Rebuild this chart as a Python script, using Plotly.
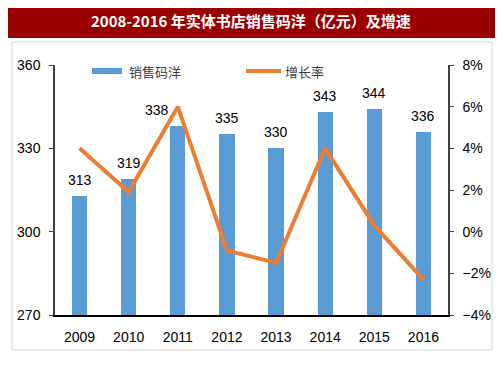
import plotly.graph_objects as go

years = ["2009", "2010", "2011", "2012", "2013", "2014", "2015", "2016"]
sales = [313, 319, 338, 335, 330, 343, 344, 336]
growth = [4.0, 1.9, 6.0, -0.9, -1.5, 4.0, 0.3, -2.3]
title_text = "2008-2016 年实体书店销售码洋（亿元）及增速"
sales_name = "销售码洋"
growth_name = "增长率"

# the page body has an 8px margin; figure coordinates are page coordinates minus 8
OFF = 8
W, H = 503 - OFF, 378 - OFF
L, R, T, B = 55, 448, 65, 315  # page coordinates of the plot area


def px(x):
    return (x - L) / (R - L)


def py(y):
    return (B - y) / (B - T)


fig = go.Figure()
fig.add_trace(go.Bar(
    x=years, y=sales, name=sales_name,
    marker=dict(color="#5B9BD5", line=dict(width=0)),
    width=0.31,
))
fig.add_trace(go.Scatter(
    x=years, y=growth, name=growth_name, yaxis="y2", mode="lines",
    line=dict(color="#ED7D31", width=4),
))

tickfont = dict(family="Liberation Sans, Arial", size=14, color="#000000")

# value labels above each bar (category index on the x axis, value on the y axis);
# the 2011 label is nudged left so the line peak does not cover it
label_xshift = {2: -21}
label_annotations = [
    dict(text=str(v), x=i, y=v, xref="x", yref="y", showarrow=False,
         xanchor="center", yanchor="bottom", yshift=6, xshift=label_xshift.get(i, 0),
         font=dict(family="Liberation Sans, Arial", size=14, color="#000000"))
    for i, v in enumerate(sales)
]

fig.update_layout(
    width=W, height=H,
    margin=dict(l=L - OFF, r=503 - R, t=T - OFF, b=378 - B, autoexpand=False),
    paper_bgcolor="white", plot_bgcolor="white",
    showlegend=False,
    bargap=0,
    xaxis=dict(type="category", showgrid=False, showline=True, linecolor="#000000",
               linewidth=2, ticks="", tickfont=tickfont, ticklabelstandoff=8,
               range=[-0.5, 7.5], zeroline=False),
    yaxis=dict(range=[270, 360], dtick=30, showgrid=False, showline=True,
               linecolor="#404040", linewidth=1.5, ticks="outside", ticklen=4,
               tickcolor="#404040", tickfont=tickfont, ticklabelstandoff=6,
               zeroline=False),
    yaxis2=dict(range=[-4, 8], dtick=2, overlaying="y", side="right",
                showgrid=False, showline=True, linecolor="#404040", linewidth=1.5,
                ticks="outside", ticklen=4, tickcolor="#404040",
                ticksuffix="%", tickfont=tickfont, ticklabelstandoff=6,
                zeroline=False),
    shapes=[
        dict(type="rect", xref="paper", yref="paper",
             x0=px(4), x1=px(500), y0=py(38), y1=py(2),
             fillcolor="#9B0000", line=dict(width=0), layer="below"),
        dict(type="rect", xref="paper", yref="paper",
             x0=px(12), x1=px(492), y0=py(350), y1=py(42),
             fillcolor="rgba(0,0,0,0)", line=dict(color="#D9D9D9", width=1), layer="below"),
        dict(type="rect", xref="paper", yref="paper",
             x0=px(92), x1=px(122), y0=py(74), y1=py(68),
             fillcolor="#5B9BD5", line=dict(width=0)),
        dict(type="line", xref="paper", yref="paper",
             x0=px(246), x1=px(281), y0=py(71), y1=py(71),
             line=dict(color="#ED7D31", width=4)),
    ],
    annotations=[
        dict(text="<b>" + title_text + "</b>", xref="paper", yref="paper",
             x=px(251), y=py(20), showarrow=False, xanchor="center", yanchor="middle",
             font=dict(family="Noto Sans CJK SC", size=15, color="white")),
        dict(text=sales_name, xref="paper", yref="paper", x=px(127), y=py(71),
             showarrow=False, xanchor="left", yanchor="middle",
             font=dict(family="Noto Sans CJK SC", size=13, color="#404040")),
        dict(text=growth_name, xref="paper", yref="paper", x=px(283), y=py(71),
             showarrow=False, xanchor="left", yanchor="middle",
             font=dict(family="Noto Sans CJK SC", size=13, color="#404040")),
    ] + label_annotations,
)

fig.write_html("out.html")
